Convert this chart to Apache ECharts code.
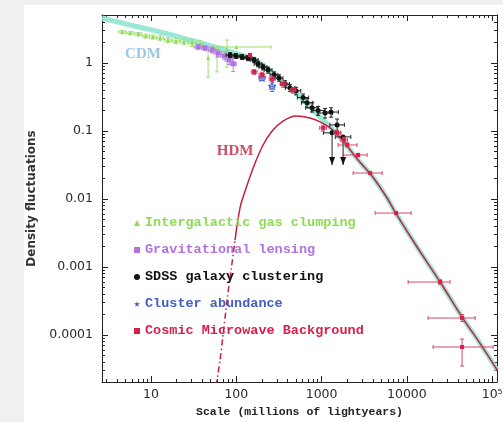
<!DOCTYPE html>
<html><head><meta charset="utf-8">
<script src="https://cdn.jsdelivr.net/npm/echarts@6/dist/echarts.min.js"></script>
<style>html,body{margin:0;padding:0;background:#f0f0f0}#c{width:503px;height:422px}</style>
</head><body><div id="c"></div>
<script>
// ---- axis ranges & ticks ----
const xMin = 2.66, xMax = 114000;
const yMin = 2.04e-5, yMax = 5.08;
const xMajor = [10, 100, 1000, 10000, 100000];
const xMajorLabels = ['10', '100', '1000', '10000', '10\u2075'];
const xMinor = [3,4,5,6,7,8,9,20,30,40,50,60,70,80,90,200,300,400,500,600,700,800,900,
  2000,3000,4000,5000,6000,7000,8000,9000,20000,30000,40000,50000,60000,70000,80000,90000];
const yMajor = [0.0001, 0.001, 0.01, 0.1, 1];
const yMajorLabels = ['0.0001', '0.001', '0.01', '0.1', '1'];
const yMinor = [0.00003,0.00004,0.00005,0.00006,0.00007,0.00008,0.00009,
  0.0002,0.0003,0.0004,0.0005,0.0006,0.0007,0.0008,0.0009,
  0.002,0.003,0.004,0.005,0.006,0.007,0.008,0.009,
  0.02,0.03,0.04,0.05,0.06,0.07,0.08,0.09,
  0.2,0.3,0.4,0.5,0.6,0.7,0.8,0.9,2,3,4,5];

// ---- series names ----
const seriesNames = ['Intergalactic gas clumping', 'Gravitational lensing', 'SDSS galaxy clustering',
  'Cluster abundance', 'Cosmic Microwave Background'];

// ---- data: [x, y, xlo, xhi, ylo, yhi, upperLimit] ----
const gasData = [
  [4.6, 2.86, 4.2, 5.0, 2.7, 3.0],
  [5.7, 2.76, 5.2, 6.2, 2.6, 2.9],
  [7.1, 2.67, 6.5, 7.7, 2.5, 2.8],
  [8.7, 2.49, 8.0, 9.5, 2.33, 2.66],
  [10.5, 2.41, 9.6, 11.5, 2.25, 2.58],
  [12.8, 2.33, 11.7, 14.0, 2.15, 2.52],
  [15.8, 2.18, 14.4, 17.3, 2.0, 2.37],
  [19.6, 2.11, 17.9, 21.5, 1.93, 2.3],
  [24.4, 2.04, 22.3, 26.7, 1.85, 2.25],
  [30.3, 1.97, 27.7, 33.2, 1.75, 2.2],
  [37.6, 1.90, 34.4, 41.1, 1.65, 2.15],
  [46.7, 1.18, 46.7, 46.7, 0.62, 1.55],
  [59.4, 1.27, 59.4, 59.4, 0.74, 1.66],
  [77.8, 1.55, 77.8, 77.8, 0.87, 2.18],
  [100, 1.72, 40.7, 256, 1.72, 1.72]
];
const lensData = [
  [35.6, 1.72, 32, 40, 1.6, 1.85],
  [43, 1.66, 39, 47, 1.52, 1.8],
  [52, 1.55, 47, 57, 1.40, 1.72],
  [61, 1.40, 55, 67, 1.25, 1.57],
  [72, 1.27, 65, 79, 1.12, 1.45],
  [82, 1.11, 74, 90, 0.95, 1.30],
  [92, 0.97, 84, 100, 0.75, 1.2]
];
const sdssData = [
  [84.5, 1.31, 76, 94, 1.20, 1.42, 0],
  [99, 1.27, 89, 110, 1.17, 1.38, 0],
  [117, 1.23, 105, 130, 1.13, 1.33, 0],
  [137, 1.18, 123, 152, 1.08, 1.28, 0],
  [162, 1.11, 146, 180, 1.01, 1.21, 0],
  [180, 0.97, 162, 200, 0.88, 1.06, 0],
  [206, 0.87, 185, 229, 0.79, 0.96, 0],
  [236, 0.79, 212, 262, 0.71, 0.87, 0],
  [277, 0.67, 249, 308, 0.60, 0.74, 0],
  [317, 0.60, 285, 352, 0.54, 0.67, 0],
  [373, 0.49, 330, 420, 0.44, 0.55, 0],
  [427, 0.43, 375, 485, 0.38, 0.48, 0],
  [502, 0.39, 440, 570, 0.34, 0.44, 0],
  [607, 0.31, 520, 705, 0.27, 0.35, 0],
  [676, 0.26, 580, 790, 0.22, 0.30, 0],
  [774, 0.22, 650, 920, 0.19, 0.26, 0],
  [910, 0.20, 760, 1090, 0.17, 0.23, 0],
  [1099, 0.184, 900, 1340, 0.155, 0.215, 0],
  [1291, 0.19, 1060, 1570, 0.16, 0.22, 0],
  [1520, 0.123, 1250, 1850, 0.10, 0.15, 0],
  [1327, 0.094, 1050, 1680, 0.0316, 0.094, 1],
  [1787, 0.082, 1450, 2200, 0.0316, 0.082, 1]
];
const clusterData = [
  [200, 0.60, 185, 217, 0.55, 0.66],
  [263, 0.45, 245, 283, 0.38, 0.52]
];
const cmbData = [
  [145, 1.31, 140, 150, 1.25, 1.37],
  [162, 0.74, 150, 175, 0.68, 0.80],
  [200, 0.67, 185, 216, 0.61, 0.73],
  [263, 0.58, 243, 285, 0.53, 0.64],
  [353, 0.49, 326, 382, 0.44, 0.54],
  [463, 0.40, 428, 500, 0.36, 0.44],
  [1042, 0.111, 950, 1140, 0.10, 0.122],
  [1520, 0.094, 1390, 1660, 0.085, 0.103],
  [1837, 0.074, 1680, 2010, 0.067, 0.081],
  [2000, 0.0623, 1563, 2606, 0.058, 0.067],
  [2680, 0.0444, 1787, 3420, 0.042, 0.047],
  [3707, 0.0241, 2346, 5130, 0.0241, 0.0241],
  [7480, 0.00622, 4245, 11220, 0.00622, 0.00622],
  [24550, 0.000602, 10350, 32100, 0.00056, 0.00065],
  [44400, 0.000178, 17740, 63200, 0.000158, 0.0002],
  [44400, 0.0000667, 20300, 102800, 0.000035, 0.0000873]
];

// ---- model curves ----
const cdmCurve = [[2.66,4.59],[5.68,3.62],[12.8,2.86],[28.6,2.18],[56.3,1.72],[96.6,1.40],[145,1.18],
  [218,0.873],[325,0.582],[489,0.375],[733,0.226],[1099,0.136],[1650,0.079],[2680,0.0375],[3910,0.0218],
  [5860,0.01035],[7280,0.00644],[13180,0.00197],[24550,6.02e-4],[44400,1.84e-4],[78400,6.44e-5],[114500,3.06e-5]];
const hdmDashed = [[58,1.8e-5],[64.4,4.29e-5],[69.9,1.0e-4],[77.9,3.27e-4],[86.8,9.04e-4],[96.6,2.49e-3]];
const hdmSolid = [[96.6,2.49e-3],[111,7.62e-3],[134,0.0161],[166,0.0338],[206,0.0623],[263,0.1],[353,0.140],
  [502,0.166],[733,0.155],[960,0.136],[1259,0.111],[1787,0.0713],[2680,0.0375],[3910,0.0218],[5860,0.01035],
  [7280,0.00644],[13180,0.00197],[24550,6.02e-4],[44400,1.84e-4],[78400,6.44e-5],[114500,3.06e-5]];

// ---- annotations ----
const annotations = [
  {name: 'CDM', value: [8.05, 1.36], color: '#7fb9dc'},
  {name: 'HDM', value: [96.6, 0.0508], color: '#c0203c'}
];

const C = {gas: '#8ddc55', lens: '#b272e0', sdss: '#111111', cluster: '#3f5fc4', cmb: '#d8204a'};

function starPoints(cx, cy, R, r) {
  const pts = [];
  for (let i = 0; i < 10; i++) {
    const a = -Math.PI / 2 + i * Math.PI / 5;
    const rr = i % 2 ? r : R;
    pts.push([cx + rr * Math.cos(a), cy + rr * Math.sin(a)]);
  }
  return pts;
}

function makeRender(markColor, barColor, marker, size) {
  return function (params, api) {
    const x = api.value(0), y = api.value(1);
    const p = api.coord([x, y]);
    const kids = [];
    const st = {stroke: barColor, lineWidth: 1};
    const cap = 2;
    const xl = api.coord([api.value(2), y]), xh = api.coord([api.value(3), y]);
    if (xh[0] - xl[0] > 1) {
      kids.push({type: 'line', shape: {x1: xl[0], y1: p[1], x2: xh[0], y2: p[1]}, style: st});
      kids.push({type: 'line', shape: {x1: xl[0], y1: p[1] - cap, x2: xl[0], y2: p[1] + cap}, style: st});
      kids.push({type: 'line', shape: {x1: xh[0], y1: p[1] - cap, x2: xh[0], y2: p[1] + cap}, style: st});
    }
    const yl = api.coord([x, api.value(4)]), yh = api.coord([x, api.value(5)]);
    const limit = api.value(6) === 1;
    if (Math.abs(yl[1] - yh[1]) > 1) {
      kids.push({type: 'line', shape: {x1: p[0], y1: yh[1], x2: p[0], y2: yl[1]}, style: st});
      if (limit) {
        kids.push({type: 'polygon', shape: {points: [[p[0] - 3, yl[1] - 8], [p[0] + 3, yl[1] - 8], [p[0], yl[1]]]},
          style: {fill: markColor}});
      } else {
        kids.push({type: 'line', shape: {x1: p[0] - cap, y1: yl[1], x2: p[0] + cap, y2: yl[1]}, style: st});
        kids.push({type: 'line', shape: {x1: p[0] - cap, y1: yh[1], x2: p[0] + cap, y2: yh[1]}, style: st});
      }
    }
    const s = size;
    if (marker === 'circle') kids.push({type: 'circle', shape: {cx: p[0], cy: p[1], r: s / 2}, style: {fill: markColor}});
    else if (marker === 'rect') kids.push({type: 'rect', shape: {x: p[0] - s / 2, y: p[1] - s / 2, width: s, height: s}, style: {fill: markColor}});
    else if (marker === 'triangle') kids.push({type: 'polygon', shape: {points: [[p[0], p[1] - s / 2], [p[0] + s / 2, p[1] + s / 2], [p[0] - s / 2, p[1] + s / 2]]}, style: {fill: markColor}});
    else if (marker === 'star') kids.push({type: 'polygon', shape: {points: starPoints(p[0], p[1], s / 2, s / 4.5)}, style: {fill: 'none', stroke: markColor, lineWidth: 1}});
    return {type: 'group', children: kids};
  };
}

function errSeries(name, data, color, barColor, marker, size) {
  return {
    name: name, type: 'custom', data: data, clip: true, z: 5,
    itemStyle: {color: color},
    encode: {x: 0, y: 1},
    renderItem: makeRender(color, barColor, marker, size)
  };
}

function fmtLabel(vals, labels) {
  return function (v) {
    for (let i = 0; i < vals.length; i++) {
      if (Math.abs(Math.log10(v) - Math.log10(vals[i])) < 1e-6) return labels[i];
    }
    return '';
  };
}

const tickLabelStyle = {fontFamily: 'DejaVu Sans', fontSize: 12.5, color: '#2a2a2a'};
const axLine = {show: true, lineStyle: {color: '#222', width: 1}};

function xAx(pos, vals, len, labels, line, extra) {
  return Object.assign({
    type: 'log', logBase: 10, position: pos, min: xMin, max: xMax,
    axisLine: line ? axLine : {show: false},
    axisTick: {show: true, inside: true, length: len, customValues: vals, lineStyle: {color: '#222', width: 1}},
    axisLabel: labels ? Object.assign({show: true, customValues: vals, margin: 6, formatter: fmtLabel(xMajor, xMajorLabels)}, tickLabelStyle) : {show: false},
    splitLine: {show: false}, minorTick: {show: false}
  }, extra || {});
}
function yAx(pos, vals, len, labels, line, extra) {
  return Object.assign({
    type: 'log', logBase: 10, position: pos, min: yMin, max: yMax,
    axisLine: line ? axLine : {show: false},
    axisTick: {show: true, inside: true, length: len, customValues: vals, lineStyle: {color: '#222', width: 1}},
    axisLabel: labels ? Object.assign({show: true, customValues: vals, margin: 9, formatter: fmtLabel(yMajor, yMajorLabels)}, tickLabelStyle) : {show: false},
    splitLine: {show: false}, minorTick: {show: false}
  }, extra || {});
}

const chart = echarts.init(document.getElementById('c'), null, {renderer: 'canvas'});
chart.setOption({
  backgroundColor: '#f0f0f0',
  animation: false,
  graphic: [{type: 'rect', z: -10, silent: true, shape: {x: 24, y: 5, width: 479, height: 417}, style: {fill: '#ffffff'}}],
  grid: {left: 102, right: 6, top: 15, bottom: 40, containLabel: false, outerBoundsMode: 'none'},
  legend: {
    orient: 'vertical', left: 134, top: 216, padding: 0, itemWidth: 6, itemHeight: 6, itemGap: 13, selectedMode: false,
    textStyle: {fontFamily: 'Liberation Mono', fontSize: 13.5, fontWeight: 'bold', lineHeight: 14},
    data: [
      {name: seriesNames[0], icon: 'triangle', textStyle: {color: C.gas}},
      {name: seriesNames[1], icon: 'rect', textStyle: {color: C.lens}},
      {name: seriesNames[2], icon: 'circle', textStyle: {color: C.sdss}},
      {name: seriesNames[3], icon: 'path://M5,0L6.2,3.6L10,3.6L6.9,5.9L8.1,9.5L5,7.3L1.9,9.5L3.1,5.9L0,3.6L3.8,3.6Z', textStyle: {color: C.cluster}},
      {name: seriesNames[4], icon: 'rect', textStyle: {color: C.cmb}}
    ]
  },
  xAxis: [
    xAx('bottom', xMajor, 6, true, true, {
      name: 'Scale (millions of lightyears)', nameLocation: 'middle', nameGap: 21,
      nameTextStyle: {fontFamily: 'Liberation Mono', fontSize: 11.5, fontWeight: 'bold', color: '#222'}
    }),
    xAx('bottom', xMinor, 3, false, false),
    xAx('top', xMajor, 6, false, true),
    xAx('top', xMinor, 3, false, false)
  ],
  yAxis: [
    yAx('left', yMajor, 6, true, true, {
      name: 'Density fluctuations', nameLocation: 'middle', nameGap: 56, nameRotate: 90,
      nameTextStyle: {fontFamily: 'DejaVu Sans', fontSize: 12, fontWeight: 'bold', color: '#333'}
    }),
    yAx('left', yMinor, 3, false, false),
    yAx('right', yMajor, 6, false, true),
    yAx('right', yMinor, 3, false, false)
  ],
  series: [
    {type: 'line', name: 'CDM curve', data: cdmCurve, smooth: 0.3, showSymbol: false, z: 1,
      lineStyle: {color: '#8fe6cf', width: 5, opacity: 0.9}},
    {type: 'line', name: 'HDM dashed', data: hdmDashed, smooth: 0.3, showSymbol: false, z: 3,
      lineStyle: {color: '#c4203a', width: 1.5, type: [6, 3, 1.5, 3]}},
    {type: 'line', name: 'HDM curve', data: hdmSolid, smooth: 0.3, showSymbol: false, z: 3,
      lineStyle: {color: '#c4203a', width: 1.5}},
    errSeries(seriesNames[0], gasData, C.gas, '#9fe070', 'triangle', 4),
    errSeries(seriesNames[1], lensData, C.lens, '#b88ae0', 'rect', 5),
    errSeries(seriesNames[2], sdssData, C.sdss, '#222', 'circle', 5),
    errSeries(seriesNames[3], clusterData, C.cluster, '#5570d0', 'star', 8),
    errSeries(seriesNames[4], cmbData, C.cmb, '#d8486a', 'rect', 4),
    {type: 'scatter', name: 'labels', symbolSize: 0, z: 6, silent: true,
      data: annotations.map(a => ({name: a.name, value: a.value, label: {color: a.color}})),
      label: {show: true, position: 'inside', formatter: '{b}', fontFamily: 'Liberation Serif', fontSize: 15, fontWeight: 'bold'}}
  ]
});
</script></body></html>
